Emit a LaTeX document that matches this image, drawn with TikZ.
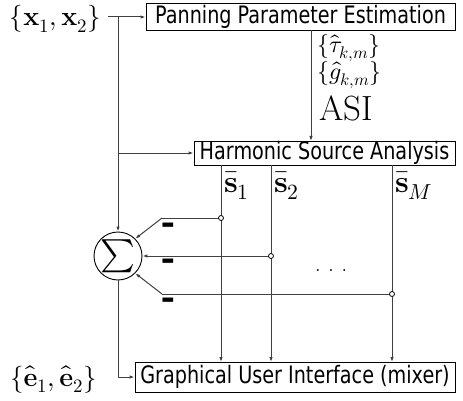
\documentclass[tikz,border=0pt]{standalone}
\usepackage{fontspec}
\usepackage{unicode-math}
\setmathfont{Latin Modern Math}
\usetikzlibrary{arrows.meta}
\newfontfamily\boxfont[FakeStretch=0.8]{DejaVu Sans}
\newcommand{\fsz}[1]{\fontsize{#1}{#1}\selectfont}
\begin{document}
\begin{tikzpicture}[x=1pt,y=-1pt,
    blk/.style={draw,line width=0.9pt,inner sep=0pt,font=\boxfont\fsz{24}},
    sig/.style={line width=1pt,draw=black!75},
    arr/.style={sig,-{Latex[length=5pt,width=3.5pt]}},
    lbl/.style={inner sep=0pt,font=\fsz{27}},
    tap/.style={circle,draw,fill=white,inner sep=0pt,minimum size=5pt,line width=0.8pt},
    minus/.style={inner sep=0pt,font=\boxfont\bfseries\fsz{34}}]
  \useasboundingbox (0,0) rectangle (463,401);
  % blocks
  \node[blk,minimum width=309,minimum height=27] (ppe) at (300.5,16.5) {Panning Parameter Estimation};
  \node[blk,minimum width=261,minimum height=24] (hsa) at (324.5,153) {Harmonic Source Analysis};
  \node[blk,minimum width=320,minimum height=30] (gui) at (295,377) {Graphical User Interface (mixer)};
  \node[circle,draw,line width=0.9pt,minimum size=48,inner sep=0pt] (sum) at (118,256) {\fsz{33}$\textstyle\sum$};
  % inputs and outputs
  \node[lbl,anchor=base east] (in) at (101,26) {$\{\mathbf{x}_1,\mathbf{x}_2\}$};
  \node[lbl,anchor=base east] (out) at (97,386) {$\{\hat{\mathbf{e}}_1,\hat{\mathbf{e}}_2\}$};
  \coordinate (split) at (118,17);
  \draw[sig] (108,17) -- (split);
  \draw[arr] (split) -- (ppe.west |- split);
  \draw[arr] (split) -- (sum.north);
  \draw[arr] (split |- hsa.west) -- (hsa.west);
  \draw[arr] (sum.south) |- (gui.west);
  % side information
  \draw[arr] (311,30) -- (311,141);
  \node[lbl,anchor=base west,font=\fsz{24}] (tau) at (317,53) {$\{\hat{\tau}_{k,m}\}$};
  \node[lbl,anchor=base west,font=\fsz{24}] (gain) at (317,80) {$\{\hat{g}_{k,m}\}$};
  \node[lbl,anchor=base west,font=\fsz{35}] (asi) at (319,121) {ASI};
  % sources
  \foreach \x/\s in {221/1, 271/2, 392/M}{
    \draw[arr] (\x,165) -- (\x,362);
    \node[lbl,anchor=base west,font=\fsz{31}] (s\s) at (\x+3,192) {$\bar{\mathbf{s}}_{\s}$};
  }
  \draw[sig] (221,218) -- (162,218);
  \draw[arr] (162,218) -- (sum.45);
  \draw[arr] (271,256) -- (sum.east);
  \draw[sig] (392,294) -- (162,294);
  \draw[arr] (162,294) -- (sum.-45);
  \foreach \x/\y/\s in {221/218/1, 271/256/2, 392/294/M}{\node[tap] (t\s) at (\x,\y) {};}
  \foreach \y in {229,265,304}{\node[minus] at (168,\y) {–};}
  \node[inner sep=0pt,anchor=base,font=\fsz{24}] (dots) at (331,271) {.\ .\ .};
\end{tikzpicture}
\end{document}
